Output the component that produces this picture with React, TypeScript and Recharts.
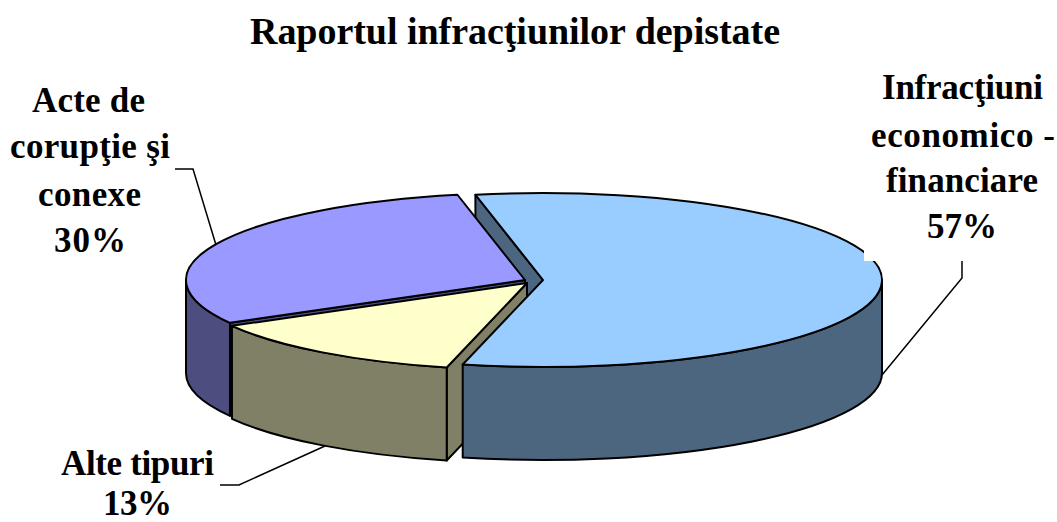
import { PieChart, Pie } from "recharts";

// counter-clockwise from the top of the pie, in painting order
const sliceNames = ["Acte de corupţie şi conexe", "Alte tipuri", "Infracţiuni economico - financiare"];
const sliceValues = [30, 13, 57];
const topColors = ["#9999ff", "#ffffcc", "#99ccff"];
const sideColors = ["#4d4d80", "#808066", "#4d6680"];
// how far each slice is pulled out of the pie, px
const offsets = [
  { x: -5, y: 0 },
  { x: -3, y: 3 },
  { x: 13, y: 0 },
];

const data = sliceNames.map((name, i) => ({ name, value: sliceValues[i] }));

const CX = 530;
const CY = 280;
const RX = 339;
const RY = 87;
const DEPTH = 93;
const BLUE = 2;

const rad = (a: number) => (a * Math.PI) / 180;

function geometry(props: any) {
  const { cx, cy, outerRadius, name } = props;
  const idx = data.findIndex((d) => d.name === name);
  const off = offsets[idx];
  const ox = cx + off.x;
  const oy = cy + off.y;
  const ry = outerRadius * (RY / RX);
  const px = (a: number) => ox + outerRadius * Math.cos(rad(a));
  const py = (a: number) => oy - ry * Math.sin(rad(a));
  return { idx, ox, oy, ry, px, py, r: outerRadius };
}

function endFace(props: any) {
  const { ox, oy, px, py } = geometry(props);
  const a = props.endAngle;
  return `M${ox},${oy} L${px(a)},${py(a)} L${px(a)},${py(a) + DEPTH} L${ox},${oy + DEPTH} Z`;
}

// the big slice's back face sits behind everything else
function BackFaceShape(props: any) {
  const { idx } = geometry(props);
  if (idx !== BLUE) return <g />;
  return <path d={endFace(props)} fill={sideColors[idx]} stroke="#000" strokeWidth={2} strokeLinejoin="round" />;
}

function SideShape(props: any) {
  const { startAngle, endAngle } = props;
  const { idx, ry, px, py, r } = geometry(props);
  const color = sideColors[idx];

  // rim is only seen on the front half, 180..360 degrees
  const from = Math.max(startAngle, 180);
  const to = Math.min(endAngle, 360);
  const big = to - from > 180 ? 1 : 0;
  const rim =
    to > from
      ? `M${px(from)},${py(from)} A${r},${ry} 0 ${big} 0 ${px(to)},${py(to)} L${px(to)},${py(to) + DEPTH} A${r},${ry} 0 ${big} 1 ${px(from)},${py(from) + DEPTH} Z`
      : null;

  return (
    <g>
      {idx !== BLUE && <path d={endFace(props)} fill={color} stroke="#000" strokeWidth={2} strokeLinejoin="round" />}
      {rim && <path d={rim} fill={color} stroke="#000" strokeWidth={2} strokeLinejoin="round" />}
    </g>
  );
}

function TopShape(props: any) {
  const { startAngle, endAngle } = props;
  const { idx, ox, oy, ry, px, py, r } = geometry(props);
  const big = endAngle - startAngle > 180 ? 1 : 0;
  const d = `M${ox},${oy} L${px(startAngle)},${py(startAngle)} A${r},${ry} 0 ${big} 0 ${px(endAngle)},${py(endAngle)} Z`;
  return <path d={d} fill={topColors[idx]} stroke="#000" strokeWidth={2} strokeLinejoin="round" />;
}

const labelFont = {
  fontFamily: "'Liberation Serif', serif",
  fontWeight: 700,
  fill: "#000",
} as const;

const titleText = "Raportul infracţiunilor depistate";
const labelTexts = ["Acte de", "corupţie şi", "conexe", "30%", "Infracţiuni", "economico -", "financiare", "57%", "Alte tipuri", "13%"];
const labelX = [32, 10, 38, 54, 882, 871, 886, 927, 61, 103];
const labelY = [112, 158, 206, 252, 99, 147, 192, 238, 475, 515];
const labelW = [113, 160, 103, 72, 161, 184, 152, 70, 153, 69];

const leaders = [
  "175,169 193,169 216,245",
  "962,261 962,278 882,375",
  "220,485 239,485 325,446",
];

const layers = [BackFaceShape, SideShape, TopShape];

export default function App() {
  return (
    <div style={{ position: "absolute", left: 0, top: 0, width: 1057, height: 522, background: "#fff", overflow: "hidden" }}>
      <PieChart width={1057} height={522} margin={{ top: 0, right: 0, bottom: 0, left: 0 }}>
        {layers.map((shape, i) => (
          <Pie
            key={i}
            data={data}
            dataKey="value"
            nameKey="name"
            cx={CX}
            cy={CY}
            outerRadius={RX}
            startAngle={101.5}
            endAngle={461.5}
            shape={shape}
            isAnimationActive={false}
          />
        ))}
      </PieChart>
      <svg width={1057} height={522} style={{ position: "absolute", left: 0, top: 0 }}>
        {/* the label box of the 57% text bites a corner off the pie */}
        <rect x={864} y={225} width={22} height={36} fill="#fff" />
        {leaders.map((pts) => (
          <polyline key={pts} points={pts} fill="none" stroke="#000" strokeWidth={1.5} />
        ))}
        <text x={250} y={44} fontSize={38} textLength={530} lengthAdjust="spacing" style={labelFont}>
          {titleText}
        </text>
        {labelTexts.map((t, i) => (
          <text key={t} x={labelX[i]} y={labelY[i]} fontSize={35} textLength={labelW[i]} lengthAdjust="spacing" style={labelFont}>
            {t}
          </text>
        ))}
      </svg>
    </div>
  );
}
